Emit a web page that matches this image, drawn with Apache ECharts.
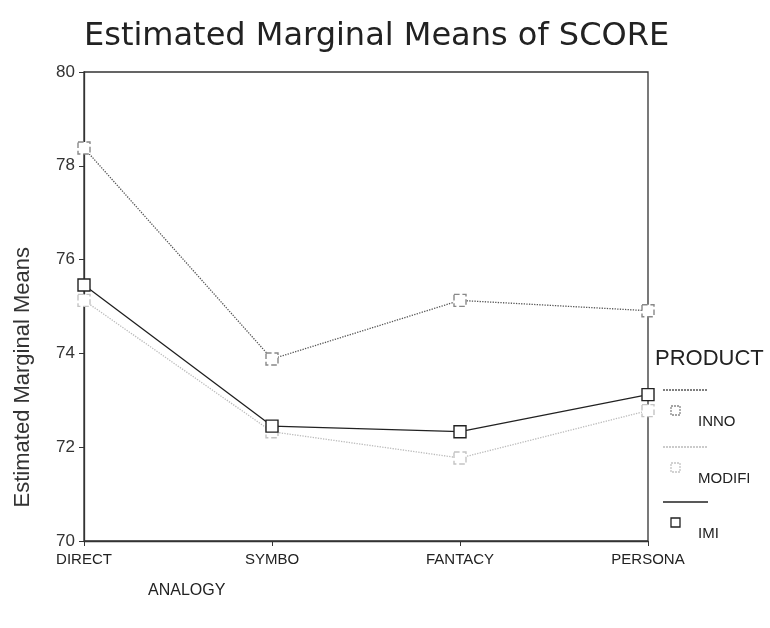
<!DOCTYPE html>
<html>
<head>
<meta charset="utf-8">
<script src="https://cdn.jsdelivr.net/npm/echarts@6/dist/echarts.min.js"></script>
<style>
  html, body { margin: 0; padding: 0; background: #fff; }
  #chart { width: 770px; height: 628px; }
</style>
</head>
<body>
<div id="chart"></div>
<script>
// data
var categories = ["DIRECT", "SYMBO", "FANTACY", "PERSONA"];
var seriesNames = ["INNO", "MODIFI", "IMI"];
var inno = [78.38, 73.88, 75.13, 74.91];
var modifi = [75.13, 72.33, 71.77, 72.78];
var imi = [75.46, 72.45, 72.33, 73.12];
var yTicks = [70, 72, 74, 76, 78, 80];

var lineColors = ["#555", "#bbb", "#222"];
var markColors = ["#888", "#c4c4c4", "#222"];
var lineTypes = ["dotted", "dotted", "solid"];
var fontFam = "Liberation Sans, Arial, sans-serif";

var chart = echarts.init(document.getElementById("chart"));

function makeSeries(i, data) {
  return {
    name: seriesNames[i],
    type: "line",
    data: data,
    symbol: "rect",
    symbolSize: 12,
    z: 2 + i,
    lineStyle: { color: lineColors[i], width: 1.3, type: lineTypes[i] },
    itemStyle: {
      color: "#fff",
      borderColor: markColors[i],
      borderWidth: 1.4,
      borderType: i === 2 ? "solid" : "dashed"
    },
    emphasis: { disabled: true },
    animation: false
  };
}

// legend drawn by hand (line sample above, square + name below)
var legendRows = [390, 447, 502];
var legendGraphic = [{
  type: "text",
  left: 655,
  top: 348,
  style: { text: "PRODUCT", font: "22px " + fontFam, fill: "#222" }
}];
seriesNames.forEach(function (name, i) {
  var y = legendRows[i];
  legendGraphic.push({
    type: "line",
    shape: { x1: 663, y1: y, x2: 708, y2: y },
    style: { stroke: lineColors[i], lineWidth: 1.3, lineDash: lineTypes[i] === "dotted" ? [2, 1] : null }
  });
  legendGraphic.push({
    type: "rect",
    shape: { x: 671, y: y + 16, width: 9, height: 9 },
    style: { fill: "#fff", stroke: markColors[i], lineWidth: 1.3, lineDash: i === 2 ? null : [2, 1] }
  });
  legendGraphic.push({
    type: "text",
    left: 698,
    top: y + 24,
    style: { text: name, font: "15px " + fontFam, fill: "#222" }
  });
});

legendGraphic.push({
  type: "text",
  left: 12,
  top: 247,
  rotation: Math.PI / 2,
  style: { text: "Estimated Marginal Means", font: "22px " + fontFam, fill: "#333" }
});
legendGraphic.push({
  type: "text",
  left: 148,
  top: 583,
  style: { text: "ANALOGY", font: "16px " + fontFam, fill: "#222" }
});

var option = {
  backgroundColor: "#fff",
  title: {
    text: "Estimated Marginal Means of SCORE",
    left: 79,
    top: 16,
    textStyle: { fontFamily: "DejaVu Sans, sans-serif", fontSize: 32, fontWeight: "normal", color: "#222" }
  },
  grid: {
    left: 84,
    right: 122,
    top: 72,
    bottom: 87,
    show: true,
    borderColor: "#333",
    borderWidth: 1.3,
    backgroundColor: "#fff"
  },
  xAxis: {
    type: "category",
    data: categories,
    boundaryGap: false,
    axisLine: { lineStyle: { color: "#333", width: 1.3 } },
    axisTick: { show: true, alignWithLabel: true, length: 5, lineStyle: { color: "#333" } },
    axisLabel: { fontFamily: fontFam, fontSize: 15, color: "#222", margin: 11 },
    splitLine: { show: false }
  },
  yAxis: {
    type: "value",
    min: yTicks[0],
    max: yTicks[yTicks.length - 1],
    interval: 2,
    axisLine: { show: true, lineStyle: { color: "#333", width: 1.3 } },
    axisTick: { show: true, length: 5, lineStyle: { color: "#333" } },
    axisLabel: { fontFamily: fontFam, fontSize: 17, color: "#333", margin: 9 },
    splitLine: { show: false }
  },
  graphic: legendGraphic,
  series: [
    makeSeries(0, inno),
    makeSeries(1, modifi),
    makeSeries(2, imi)
  ]
};

chart.setOption(option);
</script>
</body>
</html>
